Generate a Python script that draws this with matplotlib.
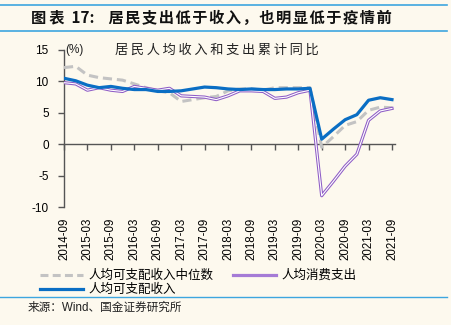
import matplotlib
matplotlib.use("Agg")
import matplotlib.pyplot as plt
from matplotlib.lines import Line2D

plt.rcParams['font.family'] = ['Liberation Sans', 'Noto Sans CJK SC', 'DejaVu Sans']

dates = ["2014-09", "2014-12", "2015-03", "2015-06", "2015-09", "2015-12",
         "2016-03", "2016-06", "2016-09", "2016-12", "2017-03", "2017-06",
         "2017-09", "2017-12", "2018-03", "2018-06", "2018-09", "2018-12",
         "2019-03", "2019-06", "2019-09", "2019-12", "2020-03", "2020-06",
         "2020-09", "2020-12", "2021-03", "2021-06", "2021-09"]
median_income = [12.2, 12.4, 11.0, 10.6, 10.4, 10.2, 9.6, 9.0, 8.5, 8.2,
                 6.8, 7.1, 7.4, 7.6, 8.5, 8.8, 8.8, 8.6, 9.0, 9.0,
                 9.0, 9.0, -0.5, 1.2, 3.0, 3.6, 5.4, 5.9, 5.8]
income = [10.5, 10.1, 9.4, 9.0, 9.2, 8.9, 8.7, 8.7, 8.4, 8.4,
          8.5, 8.8, 9.1, 9.0, 8.8, 8.7, 8.8, 8.7, 8.7, 8.8,
          8.8, 8.9, 0.8, 2.4, 3.9, 4.7, 7.0, 7.4, 7.1]
consumption = [9.8, 9.6, 8.6, 9.0, 8.6, 8.4, 9.2, 8.9, 8.6, 8.9,
               7.7, 7.6, 7.5, 7.1, 7.7, 8.5, 8.5, 8.4, 7.3, 7.5,
               8.2, 8.6, -8.2, -5.9, -3.5, -1.6, 3.8, 5.3, 5.7]
tick_labels = dates[::2]

title_head = "图表"
title_num = "17:"
title_body = "居民支出低于收入，也明显低于疫情前"
subtitle = "居民人均收入和支出累计同比"
legend_labels = ["人均可支配收入中位数", "人均可支配收入", "人均消费支出"]
source = "来源：Wind、国金证券研究所"

THIN = "\u2009"
HAIR = "\u200a"


def spaced(s, sep=THIN):
    return sep.join(s)


bg = '#FDF9EE'
W, H = 452, 325
fig = plt.figure(figsize=(W/100, H/100), dpi=100, facecolor=bg)

ax_l, ax_r, ax_t, ax_b = 64, 395.5, 50, 207
ax = fig.add_axes([ax_l/W, 1-ax_b/H, (ax_r-ax_l)/W, (ax_b-ax_t)/H])
ax.set_facecolor(bg)

x = list(range(len(dates)))
c_gray = '#C3C3C3'
c_blue = '#0A6EC4'
c_purple = '#8E5CC6'
c_purple_leg = '#A57BD6'

ax.plot(x, median_income, color=c_gray, lw=2.2, ls=(0, (3, 1.6)), zorder=3)
ax.plot(x, consumption, color=c_purple, lw=2.3, zorder=4)
ax.plot(x, consumption, color='white', lw=0.8, zorder=5)
ax.plot(x, income, color=c_blue, lw=2.3, zorder=6)

ax.set_xlim(0, 28.3)
ax.set_ylim(-10, 15)
ax.set_yticks([-10, -5, 0, 5, 10, 15])
ax.set_yticklabels(['-10', '-5', '0', '5', '10', '15'])

for s in ['top', 'right']:
    ax.spines[s].set_visible(False)
ax.spines['left'].set_color('#555555')
ax.spines['left'].set_linewidth(1.0)
ax.spines['bottom'].set_position(('data', 0))
ax.spines['bottom'].set_color('#555555')
ax.spines['bottom'].set_linewidth(1.0)

ax.set_xticks(x[::2])
ax.tick_params(axis='x', direction='out', length=4, width=1, color='#555555', labelbottom=False)
ax.tick_params(axis='y', direction='out', length=4, width=1, color='#555555', labelsize=8.5, pad=7)

sec = ax.secondary_xaxis(0)
sec.set_xticks(x[::2])
sec.set_xticklabels(tick_labels, rotation=90, fontsize=8.3)
sec.tick_params(length=0, pad=7.5)
sec.spines['bottom'].set_visible(False)

ax.text(0.1, 15, "(%)", fontsize=8.5, ha='left', va='center', color='#222222')
fig.text(115/W, 1-50/H, spaced(subtitle), fontsize=9.5,
         ha='left', va='center', family=['Noto Sans CJK SC', 'DejaVu Sans'], color='#222222')

# legend
handles = [Line2D([], [], color=c_gray, lw=2.2, ls=(0, (2.6, 1.4))),
           Line2D([], [], color=c_blue, lw=2.3),
           Line2D([], [], color=c_purple_leg, lw=2.3)]
leg = fig.legend(handles, legend_labels, loc='upper left', bbox_to_anchor=(40/W, 1-269/H),
                 ncol=2, frameon=False, prop={'family': 'Noto Sans CJK SC', 'size': 9},
                 handlelength=3.44, handletextpad=0.4, columnspacing=1.6, labelspacing=0.1,
                 borderaxespad=0, borderpad=0)

# title and decorations
line_c = '#3DA6DF'
fig.add_artist(Line2D([0, 447/W], [1-5/H, 1-5/H], color=line_c, lw=1.2))
fig.add_artist(Line2D([0, 447/W], [1-31/H, 1-31/H], color=line_c, lw=1.2))
fig.add_artist(Line2D([0, 447/W], [1-297/H, 1-297/H], color=line_c, lw=1.0))
title = spaced(title_head) + "  " + title_num + "    " + spaced(title_body, HAIR)
fig.text(31/W, 1-18/H, title, fontsize=11, fontweight='bold', style='italic',
         family=['Noto Sans CJK SC', 'DejaVu Sans'], ha='left', va='center', color='#111111')
fig.text(28/W, 1-308/H, source, fontsize=8.4,
         ha='left', va='center', color='#222222')

fig.savefig('out.png', dpi=100, facecolor=bg)
